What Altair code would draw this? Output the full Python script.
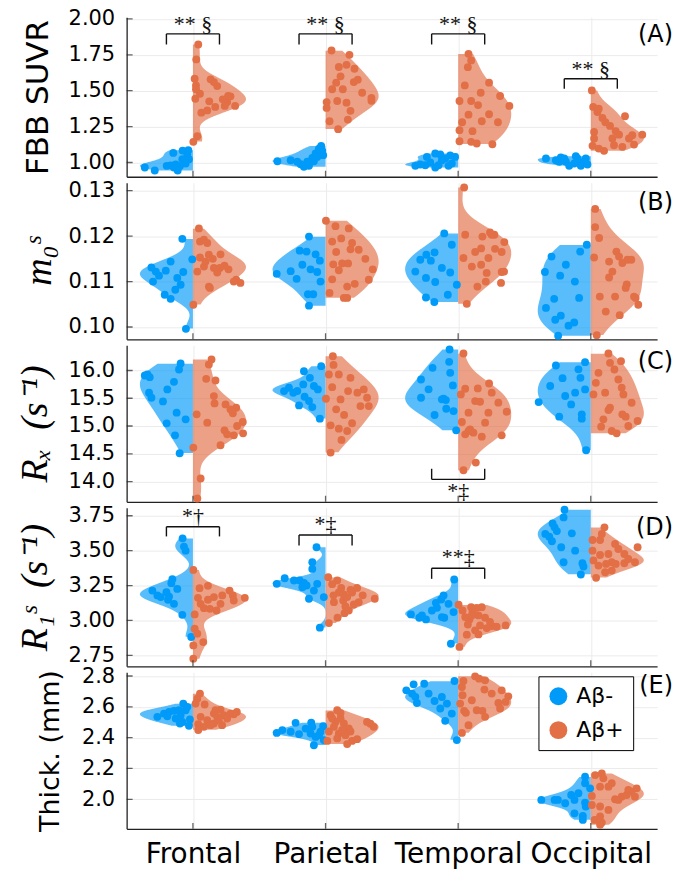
import json
import altair as alt
import pandas as pd

REGIONS = ["Frontal", "Parietal", "Temporal", "Occipital"]
GROUPS = ["Aβ-", "Aβ+"]
COLORS = ["#009AF9", "#E26F46"]

# ---------------- (A) FBB SUVR ----------------
SUVR_NEG = [
    [0.965, 0.944, 0.977, 1.067, 0.965, 0.944, 1.083, 1.023, 1.056, 1.023, 0.980, 0.993, 0.975, 1.086, 0.986],
    [1.009, 1.016, 0.988, 0.977, 1.032, 1.063, 1.116, 1.081, 1.039, 1.005, 1.009, 1.097, 0.970, 1.005, 1.051],
    [1.039, 1.063, 1.056, 1.028, 0.977, 0.965, 0.981, 0.977, 1.016, 0.993, 1.000, 1.039, 0.986, 0.981, 1.050],
    [1.028, 1.035, 1.005, 1.044, 1.005, 0.977, 1.028, 0.977, 1.016, 0.993, 1.000, 1.028, 0.986, 1.005, 1.028],
]
SUVR_NEG_JITTER = [
    [-0.363, -0.288, -0.198, -0.148, -0.143, -0.115, -0.078, -0.080, -0.043, -0.030, -0.168, -0.055, -0.098, -0.035, -0.130],
    [-0.363, -0.263, -0.188, -0.125, -0.100, -0.075, -0.033, -0.025, -0.063, -0.138, -0.088, -0.050, -0.163, -0.213, -0.018],
    [-0.236, -0.173, -0.135, -0.098, -0.073, -0.173, -0.248, -0.323, -0.123, -0.048, -0.210, -0.023, -0.286, -0.148, -0.060],
    [-0.338, -0.226, -0.188, -0.113, -0.088, -0.075, -0.038, -0.163, -0.263, -0.125, -0.050, -0.200, -0.025, -0.238, -0.100],
]
SUVR_POS = [
    [1.822, 1.718, 1.583, 1.537, 1.579, 1.532, 1.479, 1.444, 1.426, 1.387, 1.461, 1.421, 1.394, 1.394, 1.347, 1.183, 1.144, 1.463, 1.440, 1.510, 1.560, 1.363],
    [1.780, 1.750, 1.665, 1.680, 1.653, 1.577, 1.556, 1.510, 1.486, 1.449, 1.421, 1.428, 1.417, 1.380, 1.287, 1.299, 1.232, 1.430, 1.600, 1.560, 1.510, 1.360],
    [1.757, 1.711, 1.664, 1.556, 1.486, 1.463, 1.428, 1.428, 1.394, 1.333, 1.336, 1.287, 1.225, 1.218, 1.148, 1.144, 1.132, 1.127, 1.537, 1.400, 1.280, 1.280],
    [1.502, 1.387, 1.352, 1.310, 1.322, 1.255, 1.213, 1.218, 1.194, 1.190, 1.194, 1.116, 1.081, 1.120, 1.109, 1.125, 1.375, 1.280, 1.167, 1.167, 1.167, 1.097],
]
SUVR_POS_JITTER = [
    [0.040, 0.025, 0.013, 0.023, 0.133, 0.183, 0.053, 0.018, 0.123, 0.168, 0.283, 0.258, 0.240, 0.318, 0.063, 0.033, 0.003, 0.265, 0.225, 0.023, 0.158, 0.108],
    [0.045, 0.180, 0.100, 0.158, 0.218, 0.243, 0.080, 0.130, 0.276, 0.346, 0.008, 0.088, 0.158, 0.008, 0.030, 0.168, 0.095, 0.346, 0.113, 0.213, 0.050, 0.188],
    [0.078, 0.098, 0.073, 0.233, 0.170, 0.316, 0.010, 0.098, 0.386, 0.078, 0.233, 0.178, 0.010, 0.108, 0.010, 0.098, 0.140, 0.258, 0.050, 0.150, 0.300, 0.030],
    [0.008, 0.018, 0.050, 0.088, 0.258, 0.145, 0.025, 0.188, 0.213, 0.313, 0.388, 0.013, 0.100, 0.175, 0.238, 0.326, 0.060, 0.110, 0.025, 0.163, 0.288, 0.060],
]
SUVR_SIGNIF = [(1, "** §", 1.896, 1.822, 1.965), (2, "** §", 1.896, 1.822, 1.965),
               (3, "** §", 1.896, 1.822, 1.965), (4, "** §", 1.583, 1.514, 1.653)]

# ---------------- (B) m0s ----------------
M0_NEG = [
    [0.1194, 0.1149, 0.1144, 0.1131, 0.1124, 0.1121, 0.1113, 0.1100, 0.1082, 0.1071, 0.1062, 0.0996, 0.1108, 0.1122, 0.1093],
    [0.1199, 0.1168, 0.1166, 0.1146, 0.1127, 0.1121, 0.1117, 0.1106, 0.1072, 0.1072, 0.1047, 0.1160, 0.1137, 0.1100, 0.1123],
    [0.1206, 0.1148, 0.1159, 0.1164, 0.1146, 0.1120, 0.1108, 0.1099, 0.1093, 0.1071, 0.1065, 0.1055, 0.1130, 0.1122, 0.1181],
    [0.1181, 0.1166, 0.1155, 0.1121, 0.1113, 0.1100, 0.1062, 0.1016, 0.1025, 0.1003, 0.1010, 0.0981, 0.1042, 0.1064, 0.1137],
]
M0_NEG_JITTER = [
    [-0.080, -0.005, -0.168, -0.313, -0.205, -0.073, -0.256, -0.301, -0.133, -0.213, -0.168, -0.053, -0.118, -0.280, -0.093],
    [-0.125, -0.195, -0.143, -0.043, -0.113, -0.063, -0.368, -0.218, -0.133, -0.093, -0.125, -0.075, -0.175, -0.038, -0.263],
    [-0.105, -0.286, -0.240, -0.178, -0.206, -0.060, -0.243, -0.173, -0.010, -0.078, -0.243, -0.180, -0.123, -0.323, -0.048],
    [-0.030, -0.080, -0.296, -0.346, -0.231, -0.120, -0.276, -0.268, -0.226, -0.168, -0.125, -0.246, -0.338, -0.088, -0.188],
]
M0_POS = [
    [0.1217, 0.1188, 0.1192, 0.1159, 0.1153, 0.1160, 0.1150, 0.1133, 0.1130, 0.1130, 0.1127, 0.1135, 0.1104, 0.1097, 0.1089, 0.1086, 0.1049, 0.1144, 0.1120, 0.1100, 0.1185, 0.1122],
    [0.1234, 0.1222, 0.1188, 0.1195, 0.1138, 0.1140, 0.1064, 0.1217, 0.1171, 0.1140, 0.1150, 0.1127, 0.1104, 0.1089, 0.1064, 0.1105, 0.1125, 0.1170, 0.1185, 0.1165, 0.1075, 0.1095],
    [0.1307, 0.1203, 0.1199, 0.1208, 0.1203, 0.1187, 0.1173, 0.1172, 0.1165, 0.1133, 0.1137, 0.1119, 0.1121, 0.1122, 0.1100, 0.1089, 0.1097, 0.1051, 0.1203, 0.1165, 0.1152, 0.1152],
    [0.1260, 0.1220, 0.1153, 0.1166, 0.1155, 0.1141, 0.1148, 0.1148, 0.1109, 0.1094, 0.1067, 0.1067, 0.1067, 0.1049, 0.1026, 0.0982, 0.1196, 0.1122, 0.1034, 0.1086, 0.1144, 0.1064],
]
M0_POS_JITTER = [
    [0.045, 0.053, 0.083, 0.120, 0.053, 0.208, 0.150, 0.083, 0.158, 0.203, 0.268, 0.238, 0.326, 0.358, 0.120, 0.128, 0.003, 0.095, 0.183, 0.308, 0.108, 0.033],
    [0.003, 0.075, 0.050, 0.118, 0.058, 0.125, 0.138, 0.175, 0.188, 0.170, 0.300, 0.356, 0.326, 0.163, 0.163, 0.050, 0.100, 0.250, 0.200, 0.080, 0.030, 0.220],
    [0.045, 0.053, 0.183, 0.240, 0.273, 0.348, 0.173, 0.278, 0.328, 0.103, 0.173, 0.215, 0.328, 0.346, 0.208, 0.145, 0.323, 0.065, 0.253, 0.128, 0.040, 0.228],
    [0.033, 0.033, 0.025, 0.193, 0.213, 0.238, 0.276, 0.306, 0.138, 0.271, 0.068, 0.183, 0.326, 0.358, 0.218, 0.045, 0.063, 0.163, 0.113, 0.263, 0.138, 0.338],
]
M0_SIGNIF = []

# ---------------- (C) Rx ----------------
RX_NEG = [
    [16.126, 16.018, 15.910, 15.880, 15.796, 15.599, 15.509, 15.443, 15.240, 15.048, 14.832, 14.509, 15.928, 15.659, 15.120],
    [16.078, 15.988, 15.868, 15.749, 15.689, 15.599, 15.630, 15.527, 15.659, 15.371, 15.341, 15.132, 15.720, 15.450, 15.629],
    [16.377, 16.156, 16.048, 15.838, 15.731, 15.509, 15.491, 15.467, 15.311, 15.269, 15.198, 14.922, 15.480, 15.660, 15.958],
    [16.090, 16.150, 15.862, 15.868, 15.659, 15.431, 15.389, 15.168, 15.210, 15.132, 14.563, 15.600, 15.540, 15.720, 16.020],
]
RX_NEG_JITTER = [
    [-0.093, -0.105, -0.363, -0.326, -0.143, -0.331, -0.313, -0.226, -0.123, -0.198, -0.135, -0.100, -0.343, -0.193, -0.055],
    [-0.033, -0.163, -0.118, -0.168, -0.276, -0.243, -0.213, -0.158, -0.058, -0.200, -0.100, -0.043, -0.088, -0.125, -0.313],
    [-0.065, -0.068, -0.193, -0.280, -0.040, -0.280, -0.110, -0.093, -0.090, -0.035, -0.178, -0.015, -0.123, -0.223, -0.060],
    [-0.263, -0.043, -0.213, -0.078, -0.043, -0.393, -0.148, -0.238, -0.068, -0.068, -0.035, -0.118, -0.193, -0.306, -0.093],
]
RX_POS = [
    [16.198, 16.108, 15.850, 15.820, 15.407, 15.389, 15.329, 15.228, 15.210, 15.072, 14.922, 14.850, 14.832, 14.868, 14.653, 14.611, 14.054, 13.695, 15.300, 15.060, 15.000, 15.539],
    [16.257, 15.928, 15.928, 15.491, 15.012, 14.952, 14.521, 15.868, 15.629, 15.659, 15.509, 15.359, 15.359, 14.910, 15.479, 15.700, 15.200, 15.050, 15.300, 15.600, 16.100, 14.750],
    [16.305, 15.766, 15.671, 15.677, 15.569, 15.449, 15.437, 15.257, 15.240, 15.072, 14.940, 14.880, 14.850, 14.808, 14.832, 14.341, 14.204, 14.910, 15.420, 15.060, 15.600, 15.240],
    [16.305, 16.168, 16.138, 16.018, 15.778, 15.689, 15.569, 15.569, 15.329, 15.287, 15.210, 15.168, 15.090, 14.988, 14.910, 14.868, 15.600, 15.419, 15.838, 15.958, 15.000, 15.120],
]
RX_POS_JITTER = [
    [0.140, 0.120, 0.100, 0.170, 0.163, 0.246, 0.326, 0.301, 0.028, 0.376, 0.238, 0.258, 0.308, 0.378, 0.208, 0.003, 0.058, 0.033, 0.283, 0.108, 0.333, 0.158],
    [0.055, 0.025, 0.100, 0.003, 0.038, 0.100, 0.038, 0.188, 0.170, 0.288, 0.313, 0.263, 0.326, 0.163, 0.113, 0.050, 0.140, 0.200, 0.080, 0.240, 0.060, 0.120],
    [0.040, 0.233, 0.053, 0.148, 0.020, 0.128, 0.165, 0.366, 0.228, 0.028, 0.090, 0.115, 0.053, 0.178, 0.328, 0.133, 0.040, 0.078, 0.303, 0.203, 0.253, 0.078],
    [0.133, 0.228, 0.145, 0.178, 0.038, 0.233, 0.020, 0.246, 0.145, 0.133, 0.238, 0.263, 0.353, 0.078, 0.158, 0.195, 0.108, 0.308, 0.208, 0.058, 0.283, 0.095],
]
RX_SIGNIF = [(3, "*‡", 14.04, 14.23, 13.83)]

# ---------------- (D) R1s ----------------
R1_NEG = [
    [3.588, 3.529, 3.500, 3.295, 3.267, 3.214, 3.202, 3.171, 3.148, 3.040, 2.881, 3.179, 3.226, 3.167, 3.119],
    [3.524, 3.417, 3.369, 3.302, 3.262, 3.286, 3.269, 3.250, 3.155, 3.167, 2.948, 3.286, 3.262, 3.238, 3.214],
    [3.293, 3.179, 3.150, 3.090, 3.019, 3.060, 3.043, 3.019, 3.007, 3.126, 2.833, 3.024, 3.071, 3.119, 3.036],
    [3.793, 3.738, 3.695, 3.667, 3.624, 3.600, 3.567, 3.524, 3.417, 3.410, 3.386, 3.329, 3.640, 3.500, 3.620],
]
R1_NEG_JITTER = [
    [-0.078, -0.068, -0.055, -0.155, -0.163, -0.306, -0.200, -0.180, -0.188, -0.080, -0.013, -0.268, -0.118, -0.243, -0.143],
    [-0.068, -0.100, -0.100, -0.308, -0.368, -0.195, -0.163, -0.143, -0.125, -0.013, -0.043, -0.238, -0.063, -0.175, -0.088],
    [-0.030, -0.110, -0.128, -0.160, -0.105, -0.035, -0.356, -0.293, -0.243, -0.168, -0.055, -0.123, -0.198, -0.073, -0.273],
    [-0.198, -0.205, -0.288, -0.273, -0.143, -0.313, -0.293, -0.223, -0.205, -0.063, -0.055, -0.075, -0.256, -0.118, -0.343],
]
R1_POS = [
    [3.362, 3.231, 3.248, 3.162, 3.148, 3.167, 3.179, 3.214, 3.179, 3.162, 3.088, 3.083, 3.071, 3.043, 2.940, 2.905, 2.845, 2.821, 2.726, 3.119, 3.119, 3.143],
    [3.310, 3.286, 3.233, 3.186, 3.131, 3.143, 3.052, 2.981, 3.219, 3.233, 3.167, 3.114, 3.071, 3.155, 3.260, 3.200, 3.200, 3.180, 3.180, 3.100, 3.020, 3.130],
    [3.112, 3.095, 3.090, 3.036, 3.007, 3.024, 2.971, 2.964, 2.945, 2.960, 2.964, 2.898, 2.900, 2.810, 3.060, 3.019, 3.071, 2.929, 2.990, 3.036, 3.095, 2.955],
    [3.667, 3.576, 3.576, 3.500, 3.469, 3.476, 3.476, 3.524, 3.417, 3.405, 3.405, 3.410, 3.417, 3.345, 3.305, 3.393, 3.512, 3.440, 3.357, 3.620, 3.430, 3.548],
]
R1_POS_JITTER = [
    [0.003, 0.050, 0.113, 0.038, 0.113, 0.158, 0.221, 0.276, 0.301, 0.391, 0.083, 0.128, 0.178, 0.013, 0.013, 0.033, 0.078, 0.003, 0.003, 0.208, 0.058, 0.308],
    [0.020, 0.088, 0.118, 0.138, 0.063, 0.133, 0.143, 0.025, 0.188, 0.238, 0.163, 0.213, 0.175, 0.371, 0.050, 0.100, 0.200, 0.280, 0.060, 0.150, 0.090, 0.250],
    [0.003, 0.098, 0.140, 0.153, 0.085, 0.053, 0.073, 0.165, 0.216, 0.253, 0.358, 0.065, 0.153, 0.010, 0.108, 0.203, 0.033, 0.128, 0.240, 0.103, 0.178, 0.290],
    [0.103, 0.013, 0.070, 0.013, 0.070, 0.133, 0.253, 0.353, 0.158, 0.115, 0.188, 0.253, 0.333, 0.108, 0.040, 0.058, 0.208, 0.283, 0.158, 0.083, 0.020, 0.183],
]
R1_SIGNIF = [(1, "*†", 3.671, 3.602, 3.750), (2, "*‡", 3.612, 3.536, 3.690), (3, "**‡", 3.374, 3.298, 3.452)]

# ---------------- (E) Thickness ----------------
TH_NEG = [
    [2.621, 2.535, 2.556, 2.567, 2.574, 2.578, 2.578, 2.546, 2.502, 2.492, 2.477, 2.518, 2.600, 2.539, 2.524],
    [2.431, 2.449, 2.496, 2.498, 2.470, 2.474, 2.423, 2.427, 2.405, 2.351, 2.384, 2.459, 2.438, 2.438, 2.416],
    [2.746, 2.707, 2.686, 2.750, 2.625, 2.638, 2.589, 2.621, 2.509, 2.768, 2.384, 2.665, 2.556, 2.686, 2.664],
    [2.147, 2.104, 2.028, 1.996, 1.996, 1.996, 1.996, 1.978, 1.953, 1.909, 1.892, 1.866, 2.039, 1.974, 2.071],
]
TH_NEG_JITTER = [
    [-0.073, -0.268, -0.218, -0.180, -0.143, -0.105, -0.055, -0.093, -0.080, -0.098, -0.030, -0.023, -0.043, -0.193, -0.130],
    [-0.368, -0.326, -0.226, -0.108, -0.100, -0.018, -0.200, -0.113, -0.075, -0.088, -0.013, -0.150, -0.038, -0.263, -0.050],
    [-0.336, -0.391, -0.348, -0.256, -0.311, -0.178, -0.135, -0.085, -0.098, -0.028, -0.010, -0.323, -0.048, -0.223, -0.123],
    [-0.043, -0.043, -0.148, -0.123, -0.273, -0.248, -0.373, -0.043, -0.038, -0.123, -0.060, -0.060, -0.093, -0.193, -0.005],
]
TH_POS = [
    [2.686, 2.653, 2.615, 2.621, 2.582, 2.556, 2.535, 2.546, 2.567, 2.556, 2.492, 2.481, 2.487, 2.449, 2.513, 2.513, 2.524, 2.481, 2.535, 2.578, 2.552, 2.470],
    [2.578, 2.546, 2.524, 2.502, 2.492, 2.460, 2.427, 2.416, 2.379, 2.379, 2.358, 2.502, 2.470, 2.490, 2.470, 2.450, 2.440, 2.524, 2.560, 2.440, 2.390, 2.395],
    [2.798, 2.783, 2.772, 2.768, 2.729, 2.712, 2.675, 2.668, 2.632, 2.625, 2.574, 2.578, 2.574, 2.561, 2.589, 2.481, 2.431, 2.686, 2.643, 2.535, 2.707, 2.621],
    [2.157, 2.168, 2.136, 2.082, 2.082, 2.022, 2.000, 2.017, 2.028, 2.050, 2.071, 2.017, 1.953, 1.888, 1.866, 1.849, 1.834, 1.996, 2.061, 2.104, 1.931, 1.963],
]
TH_POS_JITTER = [
    [0.053, 0.033, 0.088, 0.020, 0.208, 0.158, 0.183, 0.233, 0.331, 0.283, 0.158, 0.220, 0.040, 0.040, 0.108, 0.195, 0.258, 0.133, 0.058, 0.170, 0.308, 0.083],
    [0.088, 0.038, 0.113, 0.075, 0.138, 0.175, 0.100, 0.150, 0.013, 0.200, 0.163, 0.313, 0.363, 0.338, 0.063, 0.125, 0.188, 0.050, 0.113, 0.025, 0.238, 0.088],
    [0.128, 0.158, 0.203, 0.040, 0.028, 0.198, 0.033, 0.378, 0.358, 0.303, 0.045, 0.140, 0.183, 0.058, 0.316, 0.078, 0.028, 0.253, 0.103, 0.203, 0.328, 0.015],
    [0.033, 0.083, 0.095, 0.070, 0.133, 0.008, 0.183, 0.233, 0.271, 0.308, 0.346, 0.333, 0.070, 0.070, 0.028, 0.083, 0.070, 0.208, 0.283, 0.158, 0.133, 0.008],
]
TH_SIGNIF = []

# ---------------- panel settings ----------------
PANELS = [
    dict(key="A", data=(SUVR_NEG, SUVR_NEG_JITTER, SUVR_POS, SUVR_POS_JITTER), signif=SUVR_SIGNIF,
         title="FBB SUVR", font="DejaVu Sans", tsize=31, style="normal", tpad=14,
         domain=[0.9007, 2.0118], ticks=[1.0, 1.25, 1.5, 1.75, 2.0], fmt=".2f", height=160, label_y=18),
    dict(key="B", data=(M0_NEG, M0_NEG_JITTER, M0_POS, M0_POS_JITTER), signif=M0_SIGNIF,
         title="m₀ˢ", font="Liberation Serif", tsize=38, style="italic", tpad=10,
         domain=[0.097296, 0.131756], ticks=[0.10, 0.11, 0.12, 0.13], fmt=".2f", height=157, label_y=20),
    dict(key="C", data=(RX_NEG, RX_NEG_JITTER, RX_POS, RX_POS_JITTER), signif=RX_SIGNIF,
         title="Rₓ\u2002(s⁻¹)", font="Liberation Serif", tsize=38, style="italic", tpad=14,
         domain=[13.635, 16.454], ticks=[14.0, 14.5, 15.0, 15.5, 16.0], fmt=".1f", height=157, label_y=17),
    dict(key="D", data=(R1_NEG, R1_NEG_JITTER, R1_POS, R1_POS_JITTER), signif=R1_SIGNIF,
         title="R₁ˢ\u2002(s⁻¹)", font="Liberation Serif", tsize=38, style="italic", tpad=14,
         domain=[2.671, 3.807], ticks=[2.75, 3.0, 3.25, 3.5, 3.75], fmt=".2f", height=159, label_y=20),
    dict(key="E", data=(TH_NEG, TH_NEG_JITTER, TH_POS, TH_POS_JITTER), signif=TH_SIGNIF,
         title="Thick. (mm)", font="DejaVu Sans", tsize=27, style="normal", tpad=17,
         domain=[1.808, 2.824], ticks=[2.0, 2.2, 2.4, 2.6, 2.8], fmt=".1f", height=157, label_y=14),
]

PLOT_W = 532
HALF = 0.4          # half-violin width in category units
BRACKET = 0.2       # half-width of significance brackets
LABEL_EXPR = f"{json.dumps(REGIONS)}[datum.value - 1]"


def panel_frame(cfg):
    neg, negj, pos, posj = cfg["data"]
    rows = []
    for ri in range(4):
        for v, j in zip(neg[ri], negj[ri], strict=True):
            rows.append(dict(pos=ri + 1, group=GROUPS[0], value=v, jit=j))
        for v, j in zip(pos[ri], posj[ri], strict=True):
            rows.append(dict(pos=ri + 1, group=GROUPS[1], value=v, jit=j))
    return pd.DataFrame(rows)


def make_panel(cfg, last):
    d = panel_frame(cfg)
    xs = alt.Scale(domain=[0.5, 4.5], nice=False, zero=False)
    ys = alt.Scale(domain=cfg["domain"], nice=False, zero=False)
    cs = alt.Scale(domain=GROUPS, range=COLORS)
    # same colours, listed in the other order, so this (legend-less) scale is kept apart from the legend one
    fs = alt.Scale(domain=GROUPS[::-1], range=COLORS[::-1])

    xaxis = alt.Axis(values=[1, 2, 3, 4], title=None, grid=True, ticks=False, tickSize=0,
                     labels=last, labelExpr=LABEL_EXPR, labelFontSize=28, labelPadding=12,
                     labelFlush=False, labelFont="DejaVu Sans")
    yaxis = alt.Axis(values=cfg["ticks"], format=cfg["fmt"], title=cfg["title"],
                     titleFont=cfg["font"], titleFontSize=cfg["tsize"], titleFontStyle=cfg["style"],
                     titleFontWeight="normal", titlePadding=cfg["tpad"],
                     labelFontSize=21, labelPadding=12, ticks=False, tickSize=0, grid=True,
                     labelFont="DejaVu Sans")

    def X(field):
        return alt.X(field, scale=xs, axis=xaxis)

    def Y(field):
        return alt.Y(field, scale=ys, axis=yaxis)

    base = alt.Chart(d)
    violin = (
        base.transform_joinaggregate(vmin="min(value)", vmax="max(value)", groupby=["pos", "group"])
        .transform_density("value", groupby=["pos", "group", "vmin", "vmax"],
                           as_=["value", "density"], steps=400)
        .transform_filter("datum.value >= datum.vmin && datum.value <= datum.vmax")
        .transform_joinaggregate(dmax="max(density)", groupby=["pos", "group"])
        .transform_calculate(
            xv=f"datum.pos + (datum.group == '{GROUPS[1]}' ? 1 : -1) * {HALF} * datum.density / datum.dmax")
        .mark_area(orient="horizontal", opacity=0.65)
        .encode(
            y=Y("value:Q"),
            x=alt.X("xv:Q", scale=xs, axis=xaxis, stack=None),
            x2="pos:Q",
            fill=alt.Fill("group:N", scale=fs, legend=None),
            detail="pos:N",
        )
    )

    if last:
        legend = alt.Legend(title=None, orient="none", legendX=413, legendY=4, direction="vertical",
                            strokeColor="black", fillColor="white", padding=9, symbolType="circle",
                            symbolSize=320, symbolOpacity=1, symbolStrokeWidth=0,
                            labelFontSize=22, labelFont="DejaVu Sans", labelColor="black",
                            labelOffset=7, rowPadding=12, cornerRadius=0)
    else:
        legend = None

    points = (
        base.transform_calculate(xp="datum.pos + datum.jit")
        .mark_circle(size=62, opacity=1)
        .encode(
            x=X("xp:Q"),
            y=Y("value:Q"),
            color=alt.Color("group:N", scale=cs, legend=legend),
        )
    )

    ytick = (
        alt.Chart(pd.DataFrame({"t": cfg["ticks"]}))
        .mark_tick(orient="horizontal", size=12, thickness=1.3, color="#222", clip=True)
        .encode(y=Y("t:Q"), x=alt.value(0))
    )
    xtick = (
        alt.Chart(pd.DataFrame({"p": [1, 2, 3, 4]}))
        .mark_tick(orient="vertical", size=12, thickness=1.3, color="#222", clip=True)
        .encode(x=X("p:Q"), y=alt.value(cfg["height"]))
    )

    layers = [violin, points, ytick, xtick]

    if cfg["signif"]:
        a = pd.DataFrame(cfg["signif"], columns=["pos", "text", "ybar", "yend", "ytext"])
        ann = alt.Chart(a).transform_calculate(xa=f"datum.pos - {BRACKET}", xb=f"datum.pos + {BRACKET}")
        rule = dict(color="#111", strokeWidth=1.4)
        layers += [
            ann.mark_rule(**rule).encode(x=X("xa:Q"), x2="xb:Q", y=Y("ybar:Q")),
            ann.mark_rule(**rule).encode(x=X("xa:Q"), y=Y("ybar:Q"), y2="yend:Q"),
            ann.mark_rule(**rule).encode(x=X("xb:Q"), y=Y("ybar:Q"), y2="yend:Q"),
            ann.mark_text(font="Liberation Serif", fontSize=22, baseline="middle", color="#111")
            .encode(x=X("pos:Q"), y=Y("ytext:Q"), text="text:N"),
        ]

    label = (
        alt.Chart(pd.DataFrame({"lab": [f"({cfg['key']})"]}))
        .mark_text(align="right", baseline="middle", fontSize=24, font="DejaVu Sans", color="black")
        .encode(text="lab:N", x=alt.value(548), y=alt.value(cfg["label_y"]))
    )
    layers.append(label)

    return alt.layer(*layers).properties(width=PLOT_W, height=cfg["height"])


panels = [make_panel(cfg, i == len(PANELS) - 1) for i, cfg in enumerate(PANELS)]

chart = (
    alt.vconcat(*panels, spacing=6, bounds="flush")
    .resolve_scale(x="independent", y="independent", color="independent", fill="independent")
    .resolve_axis(x="independent", y="independent")
    .resolve_legend(color="independent", fill="independent")
    .configure_view(stroke=None)
    .configure_axis(domainColor="#222", domainWidth=1.3, gridColor="#ebebeb", gridWidth=1,
                    labelColor="black", titleColor="black")
    .properties(padding={"left": 16, "top": 6, "right": 17, "bottom": 7})
)

chart.save("out.html", embed_options={"renderer": "svg", "actions": False})
